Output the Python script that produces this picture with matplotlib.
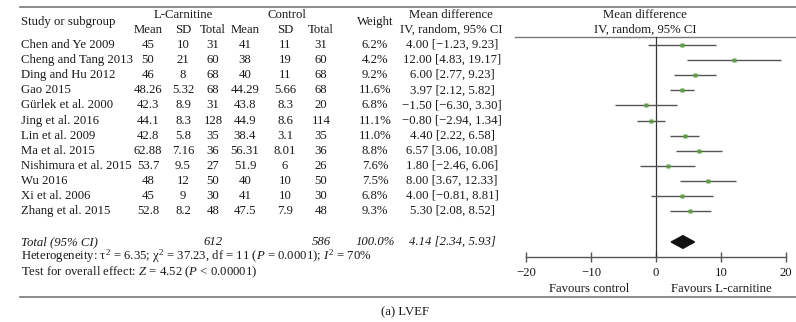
import numpy as np
import matplotlib.pyplot as plt
from matplotlib.patches import Polygon

plt.rcParams['font.family'] = ['Liberation Serif', 'DejaVu Serif']
plt.rcParams['mathtext.fontset'] = 'custom'
plt.rcParams['mathtext.rm'] = 'Liberation Serif'
plt.rcParams['mathtext.it'] = 'Liberation Serif:italic'

studies = ['Chen and Ye 2009', 'Cheng and Tang 2013', 'Ding and Hu 2012', 'Gao 2015',
           'Gürlek et al. 2000', 'Jing et al. 2016', 'Lin et al. 2009', 'Ma et al. 2015',
           'Nishimura et al. 2015', 'Wu 2016', 'Xi et al. 2006', 'Zhang et al. 2015']
lc_mean = ['45', '50', '46', '48.26', '42.3', '44.1', '42.8', '62.88', '53.7', '48', '45', '52.8']
lc_sd = ['10', '21', '8', '5.32', '8.9', '8.3', '5.8', '7.16', '9.5', '12', '9', '8.2']
lc_total = ['31', '60', '68', '68', '31', '128', '35', '36', '27', '50', '30', '48']
ct_mean = ['41', '38', '40', '44.29', '43.8', '44.9', '38.4', '56.31', '51.9', '40', '41', '47.5']
ct_sd = ['11', '19', '11', '5.66', '8.3', '8.6', '3.1', '8.01', '6', '10', '10', '7.9']
ct_total = ['31', '60', '68', '68', '20', '114', '35', '36', '26', '50', '30', '48']
weight = [6.2, 4.2, 9.2, 11.6, 6.8, 11.1, 11.0, 8.8, 7.6, 7.5, 6.8, 9.3]
md = [4.00, 12.00, 6.00, 3.97, -1.50, -0.80, 4.40, 6.57, 1.80, 8.00, 4.00, 5.30]
lo = [-1.23, 4.83, 2.77, 2.12, -6.30, -2.94, 2.22, 3.06, -2.46, 3.67, -0.81, 2.08]
hi = [9.23, 19.17, 9.23, 5.82, 3.30, 1.34, 6.58, 10.08, 6.06, 12.33, 8.81, 8.52]
total_md, total_lo, total_hi = 4.14, 2.34, 5.93
ticks = [-20, -10, 0, 10, 20]

W, H = 796, 322
fig = plt.figure(figsize=(W / 100, H / 100), dpi=100)
fc = '#1a1a1a'
fs = 9.2

# table layer in pixel coordinates
ax0 = fig.add_axes([0, 0, 1, 1])
ax0.set_xlim(0, W)
ax0.set_ylim(H, 0)
ax0.axis('off')

def row_y(i):
    return 45 + 15.1 * i

def fmt(v):
    return f'{v:.2f}'.replace('-', '\u2212')

ax0.plot([20, W], [7, 7], color='#777777', lw=1.2)
ax0.plot([20, W], [297, 297], color='#777777', lw=1.2)
ax0.plot([515, W], [36.5, 36.5], color='#777777', lw=1)

ax0.text(21, 22, 'Study or subgroup', fontsize=fs, color=fc, va='center')
ax0.text(183, 15, 'L-Carnitine', fontsize=fs, color=fc, va='center', ha='center')
ax0.text(287, 15, 'Control', fontsize=fs, color=fc, va='center', ha='center')
cols = [148, 183, 213, 245, 285, 321]
for x, lab in zip(cols, ['Mean', 'SD', 'Total', 'Mean', 'SD', 'Total']):
    ax0.text(x, 30, lab, fontsize=fs, color=fc, va='center', ha='center')
ax0.text(375, 22, 'Weight', fontsize=fs, color=fc, va='center', ha='center')
ax0.text(451, 15, 'Mean difference', fontsize=fs, color=fc, va='center', ha='center')
ax0.text(451, 30, 'IV, random, 95% CI', fontsize=fs, color=fc, va='center', ha='center')
ax0.text(645, 15, 'Mean difference', fontsize=fs, color=fc, va='center', ha='center')
ax0.text(645, 30, 'IV, random, 95% CI', fontsize=fs, color=fc, va='center', ha='center')

for i, s in enumerate(studies):
    y = row_y(i)
    ax0.text(21, y, s, fontsize=fs, color=fc, va='center')
    vals = [lc_mean[i], lc_sd[i], lc_total[i], ct_mean[i], ct_sd[i], ct_total[i]]
    for x, v in zip(cols, vals):
        ax0.text(x, y, v, fontsize=fs, color=fc, va='center', ha='center')
    ax0.text(375, y, f'{weight[i]:.1f}%', fontsize=fs, color=fc, va='center', ha='center')
    ax0.text(452, y, f'{fmt(md[i])} [{fmt(lo[i])}, {fmt(hi[i])}]',
             fontsize=fs, color=fc, va='center', ha='center')

yt = 242
ax0.text(21, yt, 'Total (95% CI)', fontsize=fs, color=fc, va='center', style='italic')
ax0.text(213, yt, str(sum(int(v) for v in lc_total)), fontsize=fs, color=fc,
         va='center', ha='center', style='italic')
ax0.text(321, yt, str(sum(int(v) for v in ct_total)), fontsize=fs, color=fc,
         va='center', ha='center', style='italic')
ax0.text(375, yt, '100.0%', fontsize=fs, color=fc, va='center', ha='center', style='italic')
ax0.text(452, yt, f'{fmt(total_md)} [{fmt(total_lo)}, {fmt(total_hi)}]', fontsize=fs,
         color=fc, va='center', ha='center', style='italic')

ax0.text(21, 256, r'Heterogeneity: τ$^2$ = 6.35; χ$^2$ = 37.23, df = 11 ($P$ = 0.0001); $I^2$ = 70%',
         fontsize=fs, color=fc, va='center')
ax0.text(21, 272, r'Test for overall effect: $Z$ = 4.52 ($P$ < 0.00001)',
         fontsize=fs, color=fc, va='center')
ax0.text(405, 312, '(a) LVEF', fontsize=fs, color=fc, va='center', ha='center')

# forest plot
y_top, y_axis = 36.5, 257
ax = fig.add_axes([526 / W, 1 - y_axis / H, 260 / W, (y_axis - y_top) / H])
ax.set_xlim(-20, 20)
ax.set_ylim((y_axis - 45) / 15.1, (y_top - 45) / 15.1)
ax.patch.set_alpha(0)
for sp in ['top', 'left', 'right']:
    ax.spines[sp].set_visible(False)
ax.spines['bottom'].set_color('#555555')
ax.spines['bottom'].set_linewidth(1)
ax.set_yticks([])
ax.set_xticks(ticks)
ax.set_xticklabels([str(t).replace('-', '\u2212') for t in ticks], fontsize=fs, color=fc)
ax.tick_params(axis='x', direction='inout', length=7, width=1, color='#555555', pad=4)
ax.axvline(0, color='#333333', lw=0.9)

rows = np.arange(len(studies))
ax.hlines(rows, lo, hi, color='#555555', lw=1)
for i in rows:
    ax.plot(md[i], i, 's', color='#5f9e45', markersize=2.0 + 0.1 * weight[i], mec='none')

ty = (yt - 45) / 15.1
ax.add_patch(Polygon([[total_lo, ty], [total_md, ty - 0.42], [total_hi, ty],
                      [total_md, ty + 0.42]], closed=True, color='#111111'))

ax0.text(589, 289, 'Favours control', fontsize=fs, color=fc, va='center', ha='center')
ax0.text(721, 289, 'Favours L-carnitine', fontsize=fs, color=fc, va='center', ha='center')

fig.savefig('out.png', dpi=100, facecolor='white')
